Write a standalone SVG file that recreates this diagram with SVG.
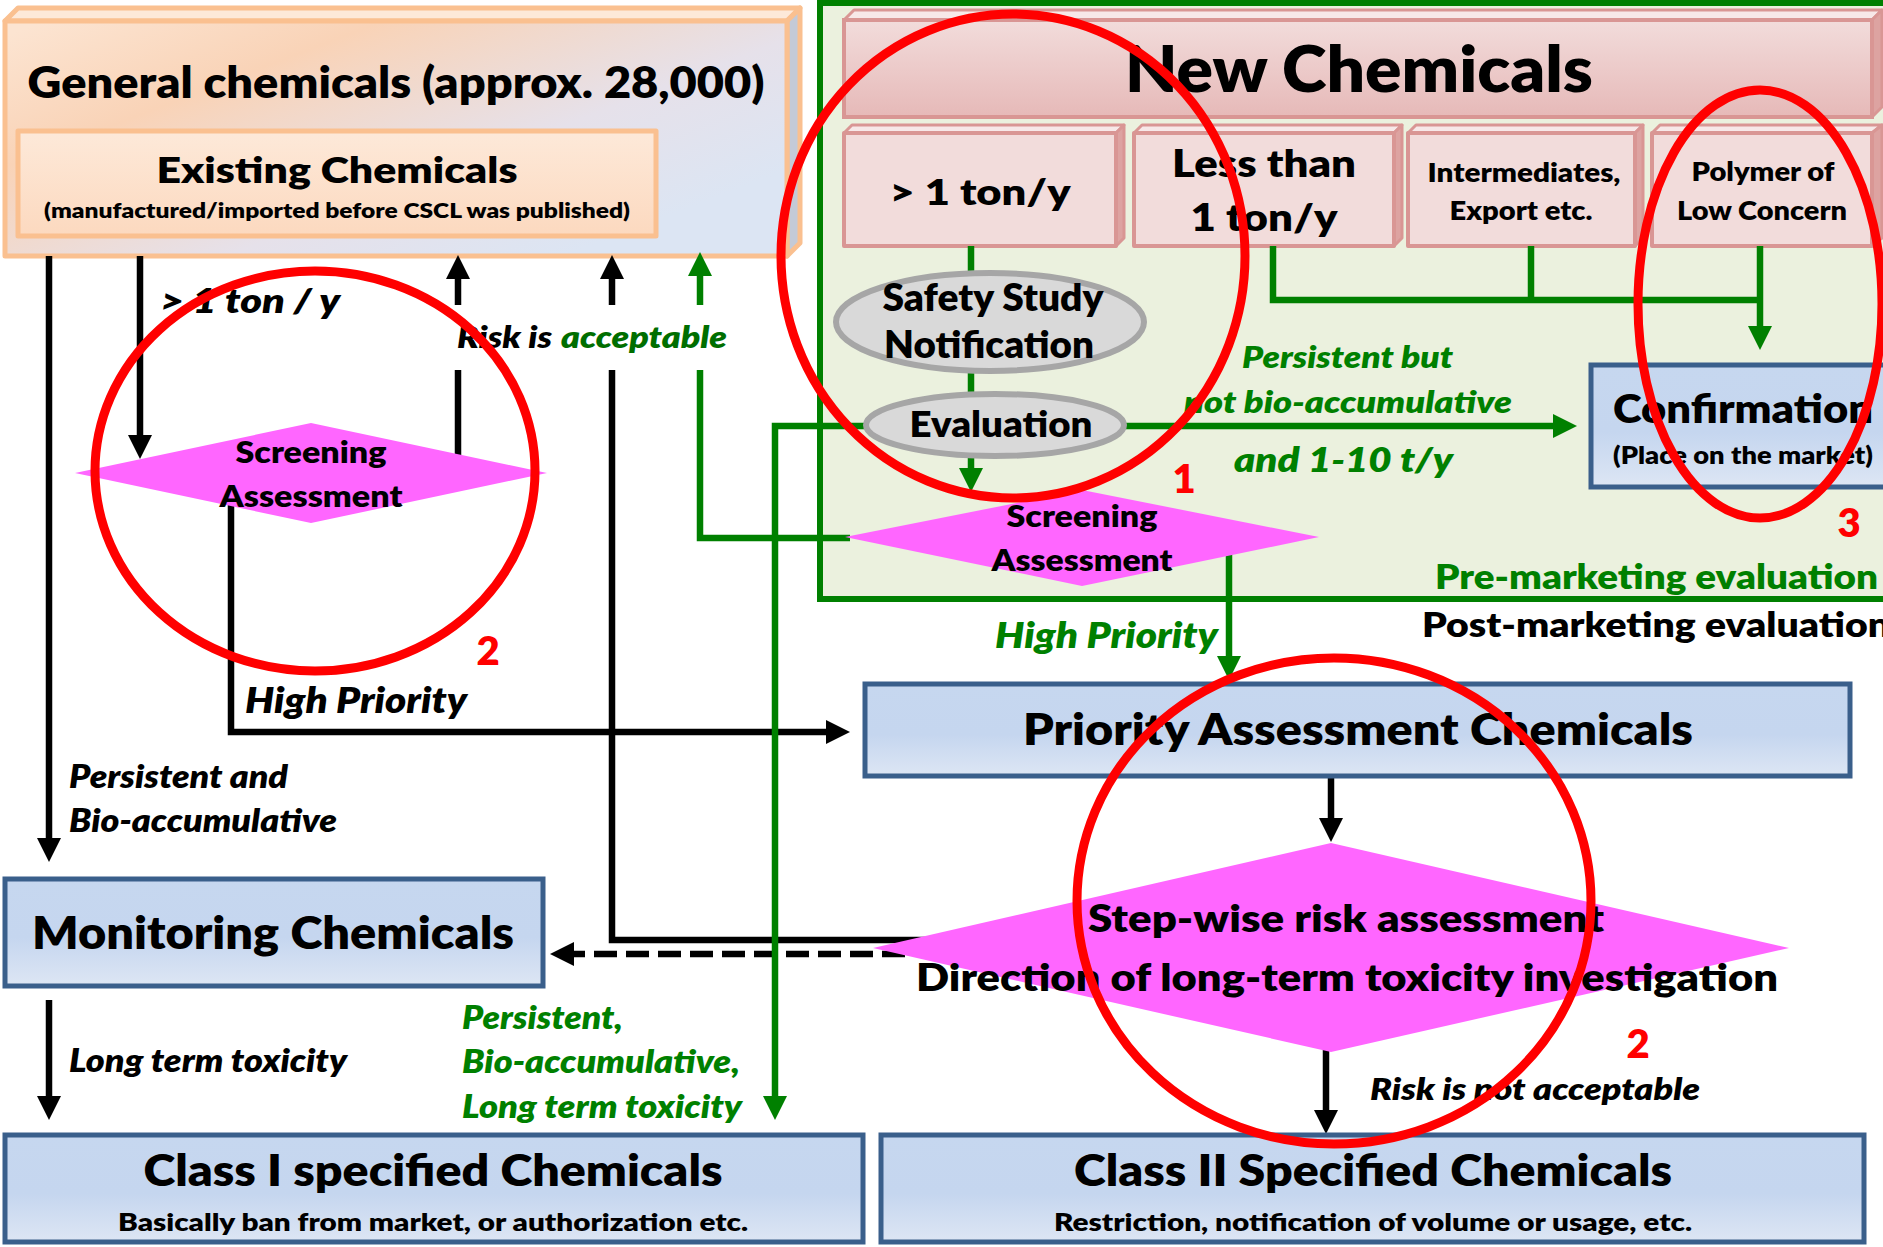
<svg xmlns="http://www.w3.org/2000/svg" width="1883" height="1247" viewBox="0 0 1883 1247">
<defs>
<style>
.t{font-family:Lato,'Liberation Sans',Arial,sans-serif;font-weight:800;fill:#000}
.i{font-family:Lato,'Liberation Sans',Arial,sans-serif;font-weight:800;font-style:italic;fill:#000}
.c{text-anchor:middle}
.g{fill:#008000}
.g2{fill:#006E00}
.r{fill:#FF0000}
.ln{fill:none;stroke:#000;stroke-width:6.5}
.lg{fill:none;stroke:#008000;stroke-width:6.5}
.blue{fill:url(#gBlue);stroke:#3A5F8B;stroke-width:5}
.dia{fill:#FF66FF}
.oval{fill:#D9D9D9;stroke:#A6A6A6;stroke-width:6}
.ann{fill:none;stroke:#FF0000;stroke-width:9}
.pk{fill:#F2DCDB;stroke:#D99694;stroke-width:4;stroke-linejoin:round}
.pkTop{fill:#F7E8E8;stroke:#D99694;stroke-width:3;stroke-linejoin:round}
.pkSide{fill:#DDA3A1;stroke:#D99694;stroke-width:3;stroke-linejoin:round}
.or{stroke:#FAC090;stroke-width:5;stroke-linejoin:round}
</style>
<linearGradient id="gGen" x1="0.05" y1="0" x2="0.95" y2="0.7">
<stop offset="0" stop-color="#FCE4D1"/>
<stop offset="0.3" stop-color="#F9D3B7"/>
<stop offset="0.7" stop-color="#E6E1EA"/>
<stop offset="1" stop-color="#DCE5F3"/>
</linearGradient>
<linearGradient id="gExist" x1="0" y1="0" x2="0" y2="1">
<stop offset="0" stop-color="#FDE9D9"/>
<stop offset="1" stop-color="#FCD9BF"/>
</linearGradient>
<linearGradient id="gBlue" x1="0" y1="0" x2="0" y2="1">
<stop offset="0" stop-color="#C6D7EF"/>
<stop offset="0.55" stop-color="#C5D6EF"/>
<stop offset="1" stop-color="#DDE6F4"/>
</linearGradient>
<linearGradient id="gPink" x1="0" y1="0" x2="0" y2="1">
<stop offset="0" stop-color="#F2DCDB"/>
<stop offset="1" stop-color="#E6B9B8"/>
</linearGradient>
<marker id="ak" markerUnits="userSpaceOnUse" markerWidth="24" markerHeight="24" viewBox="0 0 24 24" refX="4" refY="12" orient="auto"><path d="M0,0L24,12L0,24z" fill="#000"/></marker>
<marker id="ag" markerUnits="userSpaceOnUse" markerWidth="24" markerHeight="24" viewBox="0 0 24 24" refX="4" refY="12" orient="auto"><path d="M0,0L24,12L0,24z" fill="#008000"/></marker>
</defs>

<rect width="1883" height="1247" fill="#FFFFFF"/>

<g id="new-chemicals-area">
<rect x="820" y="3" width="1100" height="596" fill="#EBF1DE" stroke="#008000" stroke-width="6"/>
</g>

<g id="general-chemicals">
<polygon class="or" points="5,21 18,8 800,8 787,21" fill="#FDE9D9"/>
<polygon class="or" points="787,21 800,8 800,243 787,256" fill="#C4CAD7"/>
<rect class="or" x="5" y="21" width="782" height="235" fill="url(#gGen)"/>
<text class="t c" x="396" y="98" font-size="44" textLength="737" lengthAdjust="spacingAndGlyphs">General chemicals (approx. 28,000)</text>
</g>

<g id="existing-chemicals">
<rect class="or" x="18" y="131" width="638" height="105" fill="url(#gExist)"/>
<text class="t c" x="337" y="183" font-size="35" textLength="361" lengthAdjust="spacingAndGlyphs">Existing Chemicals</text>
<text class="t c" x="337" y="218" font-size="21" textLength="586" lengthAdjust="spacingAndGlyphs">(manufactured/imported before CSCL was published)</text>
</g>

<g id="new-chemicals">
<polygon class="pkTop" points="844,20 854,10 1882,10 1872,20"/>
<polygon class="pkSide" points="1872,20 1882,10 1882,107 1872,117"/>
<rect x="844" y="20" width="1028" height="97" fill="url(#gPink)" stroke="#D99694" stroke-width="4"/>
<text class="t c" x="1359" y="92" font-size="65" textLength="468" lengthAdjust="spacingAndGlyphs">New Chemicals</text>
</g>

<g id="over-1-ton">
<polygon class="pkTop" points="844,133 852,125 1124,125 1116,133"/>
<polygon class="pkSide" points="1116,133 1124,125 1124,238 1116,246"/>
<rect class="pk" x="844" y="133" width="272" height="113"/>
<text class="t c" x="980" y="205" font-size="36" textLength="181" lengthAdjust="spacingAndGlyphs">&gt; 1 ton/y</text>
</g>

<g id="less-than-1-ton">
<polygon class="pkTop" points="1134,133 1142,125 1402,125 1394,133"/>
<polygon class="pkSide" points="1394,133 1402,125 1402,238 1394,246"/>
<rect class="pk" x="1134" y="133" width="260" height="113"/>
<text class="t c" x="1264" y="177" font-size="38" textLength="184" lengthAdjust="spacingAndGlyphs">Less than</text>
<text class="t c" x="1264" y="231" font-size="38" textLength="147" lengthAdjust="spacingAndGlyphs">1 ton/y</text>
</g>

<g id="intermediates">
<polygon class="pkTop" points="1408,133 1416,125 1643,125 1635,133"/>
<polygon class="pkSide" points="1635,133 1643,125 1643,238 1635,246"/>
<rect class="pk" x="1408" y="133" width="227" height="113"/>
<text class="t c" x="1524" y="182" font-size="27" textLength="193" lengthAdjust="spacingAndGlyphs">Intermediates,</text>
<text class="t c" x="1521" y="220" font-size="27" textLength="143" lengthAdjust="spacingAndGlyphs">Export etc.</text>
</g>

<g id="polymer">
<polygon class="pkTop" points="1652,133 1660,125 1882,125 1872,133"/>
<polygon class="pkSide" points="1872,133 1882,125 1882,238 1872,246"/>
<rect class="pk" x="1652" y="133" width="220" height="113"/>
<text class="t c" x="1763" y="181" font-size="27" textLength="143" lengthAdjust="spacingAndGlyphs">Polymer of</text>
<text class="t c" x="1762" y="220" font-size="27" textLength="170" lengthAdjust="spacingAndGlyphs">Low Concern</text>
</g>

<g id="connectors">
<path class="ln" d="M49,256 V842" marker-end="url(#ak)"/>
<path class="ln" d="M140,256 V439" marker-end="url(#ak)"/>
<path class="ln" d="M458,456 V370"/>
<path class="ln" d="M458,305 V275" marker-end="url(#ak)"/>
<path class="ln" d="M930,940 H612 V370"/>
<path class="ln" d="M612,305 V275" marker-end="url(#ak)"/>
<path class="ln" d="M231,504 V732 H830" marker-end="url(#ak)"/>
<path class="ln" d="M49,1000 V1100" marker-end="url(#ak)"/>
<path class="ln" d="M1331,776 V822" marker-end="url(#ak)"/>
<path class="ln" d="M1326,1050 V1114" marker-end="url(#ak)"/>
<path class="ln" stroke-dasharray="23 9" d="M905,954 H570" marker-end="url(#ak)"/>
<path class="lg" d="M971,246 V472" marker-end="url(#ag)"/>
<path class="lg" d="M1273,246 V300 H1760"/>
<path class="lg" d="M1531,246 V300"/>
<path class="lg" d="M1760,246 V330" marker-end="url(#ag)"/>
<path class="lg" d="M1120,426 H1557" marker-end="url(#ag)"/>
<path class="lg" d="M870,426 H775 V1100" marker-end="url(#ag)"/>
<path class="lg" d="M850,538 H700 V370"/>
<path class="lg" d="M700,305 V272" marker-end="url(#ag)"/>
<path class="lg" d="M1229,553 V660" marker-end="url(#ag)"/>
</g>

<g id="safety-study">
<ellipse class="oval" cx="990" cy="322" rx="154" ry="49"/>
<text class="t c" x="993" y="311" font-size="37" textLength="221" lengthAdjust="spacingAndGlyphs">Safety Study</text>
<text class="t c" x="989" y="358" font-size="37" textLength="210" lengthAdjust="spacingAndGlyphs">Notification</text>
</g>

<g id="evaluation">
<ellipse class="oval" cx="995" cy="425" rx="129" ry="31"/>
<text class="t c" x="1001" y="437" font-size="35" textLength="183" lengthAdjust="spacingAndGlyphs">Evaluation</text>
</g>

<g id="screening-new">
<polygon class="dia" points="845,537 1082,490 1319,537 1082,586"/>
<text class="t c" x="1082" y="527" font-size="30" textLength="151" lengthAdjust="spacingAndGlyphs">Screening</text>
<text class="t c" x="1082" y="571" font-size="30" textLength="181" lengthAdjust="spacingAndGlyphs">Assessment</text>
</g>

<g id="screening-existing">
<polygon class="dia" points="75,473 311,423 547,473 311,523"/>
<text class="t c" x="311" y="463" font-size="30" textLength="151" lengthAdjust="spacingAndGlyphs">Screening</text>
<text class="t c" x="311" y="507" font-size="30" textLength="183" lengthAdjust="spacingAndGlyphs">Assessment</text>
</g>

<g id="confirmation">
<rect class="blue" x="1591" y="365" width="320" height="122"/>
<text class="t c" x="1743" y="423" font-size="40" textLength="260" lengthAdjust="spacingAndGlyphs">Confirmation</text>
<text class="t c" x="1743" y="464" font-size="25" textLength="260" lengthAdjust="spacingAndGlyphs">(Place on the market)</text>
</g>

<g id="marketing-labels">
<text class="t g" x="1435" y="589" font-size="34" textLength="443" lengthAdjust="spacingAndGlyphs">Pre-marketing evaluation</text>
<text class="t" x="1422" y="637" font-size="34" textLength="468" lengthAdjust="spacingAndGlyphs">Post-marketing evaluation</text>
</g>

<g id="priority-assessment">
<rect class="blue" x="865" y="684" width="985" height="92"/>
<text class="t c" x="1358" y="745" font-size="43" textLength="670" lengthAdjust="spacingAndGlyphs">Priority Assessment Chemicals</text>
</g>

<g id="stepwise">
<polygon class="dia" points="873,948 1331,843 1789,948 1331,1052"/>
<text class="t c" x="1346" y="932" font-size="38" textLength="516" lengthAdjust="spacingAndGlyphs">Step-wise risk assessment</text>
<text class="t c" x="1347" y="991" font-size="38" textLength="862" lengthAdjust="spacingAndGlyphs">Direction of long-term toxicity investigation</text>
</g>

<g id="monitoring">
<rect class="blue" x="5" y="879" width="538" height="107"/>
<text class="t c" x="273" y="949" font-size="45" textLength="482" lengthAdjust="spacingAndGlyphs">Monitoring Chemicals</text>
</g>

<g id="class1">
<rect class="blue" x="5" y="1135" width="858" height="107"/>
<text class="t c" x="433" y="1186" font-size="43" textLength="579" lengthAdjust="spacingAndGlyphs">Class I specified Chemicals</text>
<text class="t c" x="433" y="1231" font-size="24" textLength="630" lengthAdjust="spacingAndGlyphs">Basically ban from market, or authorization etc.</text>
</g>

<g id="class2">
<rect class="blue" x="881" y="1135" width="983" height="107"/>
<text class="t c" x="1373" y="1186" font-size="43" textLength="598" lengthAdjust="spacingAndGlyphs">Class II Specified Chemicals</text>
<text class="t c" x="1373" y="1231" font-size="24" textLength="638" lengthAdjust="spacingAndGlyphs">Restriction, notification of volume or usage, etc.</text>
</g>

<g id="connector-labels">
<text class="i" x="160" y="313" font-size="33" textLength="180" lengthAdjust="spacingAndGlyphs">&gt; 1 ton / y</text>
<text class="i" x="457" y="348" font-size="30" textLength="95" lengthAdjust="spacingAndGlyphs">Risk is</text>
<text class="i g2" x="561" y="348" font-size="30" textLength="166" lengthAdjust="spacingAndGlyphs">acceptable</text>
<text class="i" x="245" y="713" font-size="35" textLength="222" lengthAdjust="spacingAndGlyphs">High Priority</text>
<text class="i" x="69" y="788" font-size="32" textLength="219" lengthAdjust="spacingAndGlyphs">Persistent and</text>
<text class="i" x="69" y="832" font-size="32" textLength="268" lengthAdjust="spacingAndGlyphs">Bio-accumulative</text>
<text class="i" x="69" y="1072" font-size="32" textLength="278" lengthAdjust="spacingAndGlyphs">Long term toxicity</text>
<text class="i g" x="462" y="1029" font-size="32" textLength="161" lengthAdjust="spacingAndGlyphs">Persistent,</text>
<text class="i g" x="462" y="1073" font-size="32" textLength="278" lengthAdjust="spacingAndGlyphs">Bio-accumulative,</text>
<text class="i g" x="462" y="1118" font-size="32" textLength="280" lengthAdjust="spacingAndGlyphs">Long term toxicity</text>
<text class="i g" x="1242" y="368" font-size="30" textLength="211" lengthAdjust="spacingAndGlyphs">Persistent but</text>
<text class="i g" x="1184" y="413" font-size="30" textLength="328" lengthAdjust="spacingAndGlyphs">not bio-accumulative</text>
<text class="i g" x="1234" y="472" font-size="33" textLength="219" lengthAdjust="spacingAndGlyphs">and 1-10 t/y</text>
<text class="i g" x="995" y="648" font-size="35" textLength="223" lengthAdjust="spacingAndGlyphs">High Priority</text>
<text class="i" x="1370" y="1100" font-size="30" textLength="330" lengthAdjust="spacingAndGlyphs">Risk is not acceptable</text>
</g>

<g id="annotations">
<ellipse class="ann" cx="1013" cy="256" rx="232" ry="242"/>
<ellipse class="ann" cx="315" cy="471" rx="220" ry="200"/>
<ellipse class="ann" cx="1760" cy="304" rx="122" ry="214"/>
<ellipse class="ann" cx="1334" cy="901" rx="257" ry="243"/>
<text class="t c r" x="1184" y="493" font-size="40">1</text>
<text class="t c r" x="488" y="665" font-size="40">2</text>
<text class="t c r" x="1849" y="537" font-size="40">3</text>
<text class="t c r" x="1638" y="1058" font-size="40">2</text>
</g>
</svg>
